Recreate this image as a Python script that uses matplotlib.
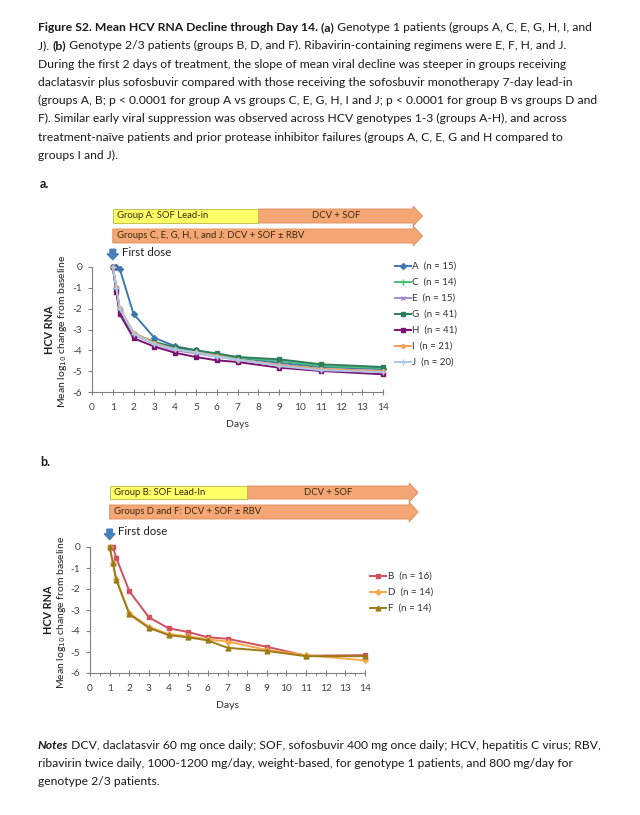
import matplotlib
matplotlib.use("Agg")
import matplotlib.pyplot as plt
import matplotlib.transforms as mtransforms
from matplotlib.patches import Rectangle, Polygon, FancyArrow
from matplotlib.ticker import MultipleLocator

plt.rcParams["font.family"] = ["Lato", "DejaVu Sans"]
plt.rcParams["axes.unicode_minus"] = False

W, H = 640, 815

# ------------------------------
# Data (mean log10 change from baseline)
days = [1, 1.17, 1.33, 2, 3, 4, 5, 6, 7, 9, 11, 14]

groups_a = ["A", "C", "E", "G", "H", "I", "J"]
n_a = [15, 14, 15, 41, 41, 21, 20]
vals_a = {
    "A": [0, -0.02, -0.08, -2.25, -3.4, -3.8, -4.0, -4.2, -4.35, -4.6, -4.8, -4.9],
    "C": [0, -1.0, -2.0, -3.2, -3.65, -3.9, -4.05, -4.2, -4.35, -4.5, -4.75, -4.85],
    "E": [0, -1.05, -2.1, -3.25, -3.7, -4.0, -4.15, -4.3, -4.45, -4.7, -4.9, -5.0],
    "G": [0, -1.0, -2.05, -3.2, -3.6, -3.85, -4.0, -4.15, -4.32, -4.43, -4.67, -4.8],
    "H": [0, -1.2, -2.25, -3.42, -3.82, -4.12, -4.32, -4.48, -4.56, -4.83, -4.99, -5.15],
    "I": [0, -0.95, -1.95, -3.15, -3.65, -3.95, -4.1, -4.25, -4.45, -4.7, -4.9, -5.0],
    "J": [0, -1.0, -2.0, -3.2, -3.7, -3.95, -4.1, -4.3, -4.45, -4.75, -4.95, -5.05],
}

groups_b = ["B", "D", "F"]
n_b = [16, 14, 14]
vals_b = {
    "B": [0, 0, -0.5, -2.1, -3.35, -3.87, -4.05, -4.3, -4.37, -4.75, -5.18, -5.15],
    "D": [0, -0.75, -1.5, -3.15, -3.8, -4.15, -4.25, -4.4, -4.5, -4.9, -5.15, -5.4],
    "F": [0, -0.78, -1.55, -3.2, -3.85, -4.2, -4.3, -4.45, -4.8, -4.95, -5.2, -5.2],
}

styles = {
    "A": ("#3E78B0", "D", 3),
    "C": ("#4CBF7A", "+", 4),
    "E": ("#A48AD0", "x", 3),
    "G": ("#2E7D5E", "s", 3.5),
    "H": ("#7A1070", "s", 3.5),
    "I": ("#F0A050", "o", 2.5),
    "J": ("#A8C8EC", "+", 4),
    "B": ("#D0505E", "s", 3.5),
    "D": ("#F5A94A", "P", 3.5),
    "F": ("#9C7C18", "^", 3.5),
}

caption = [
    [("Figure S2. Mean HCV RNA Decline through Day 14.", True), (" (a)", True),
     (" Genotype 1 patients (groups A, C, E, G, H, I, and", False)],
    [("J). ", False), ("(b)", True),
     (" Genotype 2/3 patients (groups B, D, and F). Ribavirin-containing regimens were E, F, H, and J.", False)],
    [("During the first 2 days of treatment, the slope of mean viral decline was steeper in groups receiving", False)],
    [("daclatasvir plus sofosbuvir compared with those receiving the sofosbuvir monotherapy 7-day lead-in", False)],
    [("(groups A, B; p < 0.0001 for group A vs groups C, E, G, H, I and J; p < 0.0001 for group B vs groups D and", False)],
    [("F). Similar early viral suppression was observed across HCV genotypes 1-3 (groups A-H), and across", False)],
    [("treatment-naïve patients and prior protease inhibitor failures (groups A, C, E, G and H compared to", False)],
    [("groups I and J).", False)],
]
notes = [
    [("Notes", "bi"), (" DCV, daclatasvir 60 mg once daily; SOF, sofosbuvir 400 mg once daily; HCV, hepatitis C virus; RBV,", False)],
    [("ribavirin twice daily, 1000-1200 mg/day, weight-based, for genotype 1 patients, and 800 mg/day for", False)],
    [("genotype 2/3 patients.", False)],
]

fig = plt.figure(figsize=(W / 100, H / 100), dpi=100)
renderer = fig.canvas.get_renderer()


def fy(py):
    return 1 - py / H


def rich_line(px, py, parts, size=8.75):
    x = px / W
    for txt, style in parts:
        kw = {}
        if style is True or style == "bi":
            kw["fontweight"] = "bold"
        if style == "bi":
            kw["fontstyle"] = "italic"
        t = fig.text(x, fy(py), txt, fontsize=size, va="baseline", ha="left",
                     color="#1a1a1a", **kw)
        bb = t.get_window_extent(renderer)
        x = bb.x1 / W


for i, parts in enumerate(caption):
    rich_line(38, 31 + i * 18.3, parts)
for i, parts in enumerate(notes):
    rich_line(38, 749 + i * 18, parts)


# ------------------------------
def panel(rect, groups, n, vals, bars, label, label_y, legend_xy):
    ax = fig.add_axes(rect)
    for g, k in zip(groups, n):
        c, m, ms = styles[g]
        ax.plot(days, vals[g], color=c, lw=1.4, marker=m, ms=ms, mew=1.0,
                clip_on=False, label=f"{g}  (n = {k})")

    ax.set_xlim(0, 14)
    ax.set_ylim(-6, 0)
    ax.xaxis.set_major_locator(MultipleLocator(1))
    ax.xaxis.set_minor_locator(MultipleLocator(0.5))
    ax.yaxis.set_major_locator(MultipleLocator(1))
    for s in ["top", "right"]:
        ax.spines[s].set_visible(False)
    for s in ["left", "bottom"]:
        ax.spines[s].set_color("#808080")
    ax.tick_params(axis="both", labelsize=7.3, labelcolor="#404040", color="#808080",
                   length=3, pad=4)
    ax.tick_params(axis="x", which="major", direction="inout", length=4, pad=6)
    ax.tick_params(axis="x", which="minor", direction="out", length=2, color="#808080")
    ax.set_xlabel("Days", fontsize=7.5, color="#303030", labelpad=6)

    # treatment bars above the plot
    tr = mtransforms.blended_transform_factory(ax.transData, fig.transFigure)
    (x0, lead_end, tip), (y1t, y1b), (y2t, y2b), lead_txt, all_txt = bars
    head = 0.45
    for yt, yb in [(y1t, y1b), (y2t, y2b)]:
        xs = x0 if yt == y2t else lead_end
        pts = [(xs, fy(yt)), (tip - head, fy(yt)), (tip - head, fy(yt - 3)),
               (tip, fy((yt + yb) / 2)), (tip - head, fy(yb + 3)),
               (tip - head, fy(yb)), (xs, fy(yb))]
        fig.patches.append(Polygon(pts, closed=True, transform=tr, fc="#F5A675",
                                   ec="#D98A5A", lw=0.6))
    fig.patches.append(Rectangle((x0, fy(y1b)), lead_end - x0, fy(y1t) - fy(y1b),
                                 transform=tr, fc="#FFFF66", ec="#B8B84A", lw=0.6))
    fig.text(x0 + 0.2, fy((y1t + y1b) / 2), lead_txt[0], transform=tr, fontsize=6.8,
             va="center", ha="left", color="#3a2a10")
    fig.text((lead_end + tip - head) / 2, fy((y1t + y1b) / 2), lead_txt[1],
             transform=tr, fontsize=6.8, va="center", ha="center", color="#3a2a10")
    fig.text(x0 + 0.2, fy((y2t + y2b) / 2), all_txt, transform=tr, fontsize=6.8,
             va="center", ha="left", color="#3a2a10")

    # first dose marker
    ax.add_patch(FancyArrow(1, 0.85, 0, -0.5, width=0.28, head_width=0.55,
                            head_length=0.28, length_includes_head=True,
                            fc="#4A7EBB", ec="#4A7EBB", clip_on=False))
    ax.text(1.45, 0.72, "First dose", fontsize=8.3, va="center", ha="left",
            color="#202020", clip_on=False)

    fig.text(label[0] / W, fy(label_y), label[1], fontsize=9, fontweight="bold",
             va="center", ha="left", color="#1a1a1a")

    # y label (two lines)
    cy = rect[1] + rect[3] / 2
    fig.text(rect[0] - 42 / W, cy, "HCV RNA", rotation=90, fontsize=7.8,
             fontweight="bold", va="center", ha="center", color="#202020")
    fig.text(rect[0] - 29 / W, cy - 2 / H, "Mean log$_{10}$ change from baseline",
             rotation=90, fontsize=7.5, va="center", ha="center", color="#202020")

    ax.legend(loc="upper left", bbox_to_anchor=(legend_xy[0] / W, fy(legend_xy[1])),
              bbox_transform=fig.transFigure, frameon=False, fontsize=7,
              handlelength=1.6, handletextpad=0.2, labelspacing=0.72,
              borderaxespad=0, borderpad=0, labelcolor="#303030")
    return ax


ax_a = panel([92 / W, fy(392), 291 / W, 125 / H], groups_a, n_a, vals_a,
             ((1, 8, 15.9), (209, 223), (229, 243),
              ("Group A: SOF Lead-in", "DCV + SOF"),
              "Groups C, E, G, H, I, and J: DCV + SOF ± RBV"),
             (40, "a."), 184, (395, 262))

ax_b = panel([90 / W, fy(673), 275 / W, 126 / H], groups_b, n_b, vals_b,
             ((1, 8, 16.7), (486, 499), (505, 519),
              ("Group B: SOF Lead-In", "DCV + SOF"),
              "Groups D and F: DCV + SOF ± RBV"),
             (40, "b."), 462, (370, 572))

fig.savefig("out.png", dpi=100, facecolor="white")
